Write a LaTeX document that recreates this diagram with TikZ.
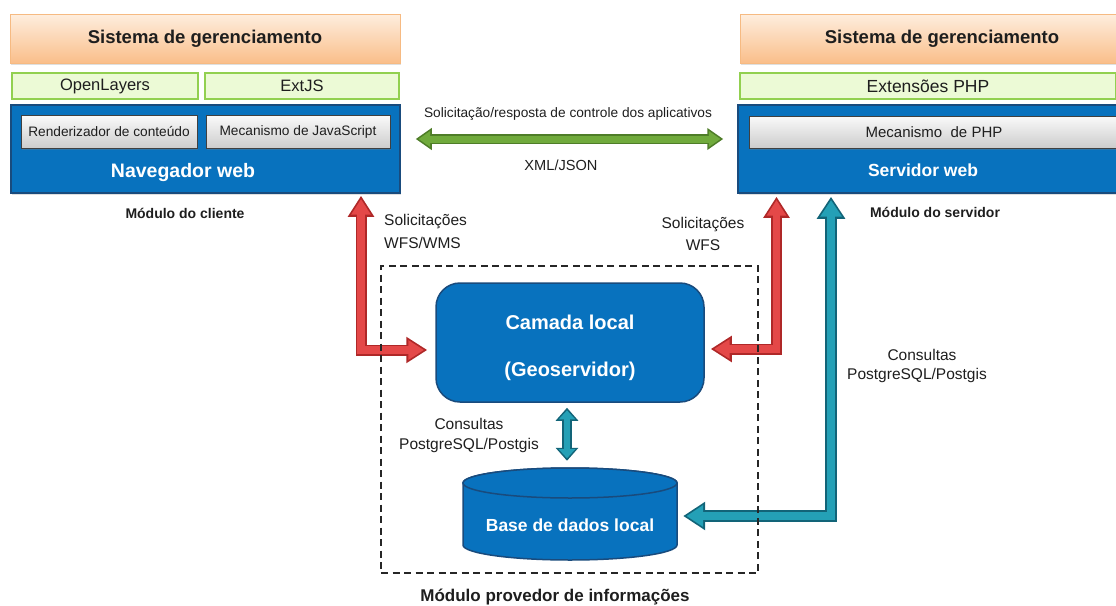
\documentclass[tikz,border=0pt]{standalone}
\usepackage{fontspec}
\setmainfont{Liberation Sans}
\usetikzlibrary{arrows.meta,shadows,calc}
\definecolor{bluefill}{RGB}{8,114,190}
\definecolor{blueborder}{RGB}{25,75,125}
\definecolor{redfill}{RGB}{228,72,72}
\definecolor{redborder}{RGB}{175,40,40}
\definecolor{tealfill}{RGB}{36,160,182}
\definecolor{tealborder}{RGB}{18,100,120}
\definecolor{grnfill}{RGB}{112,170,60}
\definecolor{grnborder}{RGB}{78,125,40}
\definecolor{orTop}{RGB}{254,238,222}
\definecolor{orBot}{RGB}{250,190,138}
\definecolor{orBorder}{RGB}{246,186,130}
\definecolor{gbFill}{RGB}{236,250,214}
\definecolor{gbBorder}{RGB}{146,208,80}
\definecolor{txt}{RGB}{30,30,30}
\newcommand{\fsz}[1]{\fontsize{#1}{#1}\selectfont}
\begin{document}
\begin{tikzpicture}[x=1pt,y=-1pt,
  orangebox/.style={draw=orBorder, line width=1pt, top color=orTop, bottom color=orBot,
     inner sep=0pt, text=txt, font=\bfseries\fsz{18.5},
     drop shadow={opacity=0.25, shadow xshift=1pt, shadow yshift=-1.5pt}},
  greenbox/.style={draw=gbBorder, line width=1.3pt, fill=gbFill, inner sep=0pt, text=txt},
  bluebox/.style={draw=blueborder, line width=1.5pt, fill=bluefill, inner sep=0pt,
     drop shadow={opacity=0.25, shadow xshift=1pt, shadow yshift=-1.5pt}},
  greybox/.style={draw=black!75, line width=1pt, top color=white!96!gray, bottom color=gray!40,
     inner sep=0pt, text=txt, drop shadow={opacity=0.3, shadow xshift=1pt, shadow yshift=-1.5pt}},
  whitetext/.style={text=white, font=\bfseries\fsz{#1}},
  plaintext/.style={text=txt, font=\fsz{#1}, inner sep=0pt},
  boldtext/.style={text=txt, font=\bfseries\fsz{#1}, inner sep=0pt},
  dashbox/.style={draw=black!85, line width=1.6pt, dash pattern=on 7pt off 4.5pt, inner sep=0pt},
  redO/.style={draw=redborder, line width=11pt, line join=miter,
     {Triangle[length=21pt,width=25pt]}-{Triangle[length=21pt,width=25pt]}},
  redI/.style={draw=redfill, line width=7.6pt, line join=miter, shorten <=3.3pt, shorten >=3.3pt,
     {Triangle[length=15.5pt,width=18.5pt]}-{Triangle[length=15.5pt,width=18.5pt]}},
  tealO/.style={draw=tealborder, line width=12pt, line join=miter,
     {Triangle[length=22pt,width=27pt]}-{Triangle[length=22pt,width=27pt]}},
  tealI/.style={draw=tealfill, line width=8.6pt, line join=miter, shorten <=3.3pt, shorten >=3.3pt,
     {Triangle[length=16.5pt,width=20.5pt]}-{Triangle[length=16.5pt,width=20.5pt]}},
  tealsO/.style={draw=tealborder, line width=9.5pt,
     {Triangle[length=13pt,width=22pt]}-{Triangle[length=13pt,width=22pt]}},
  tealsI/.style={draw=tealfill, line width=6.5pt, shorten <=2.6pt, shorten >=2.6pt,
     {Triangle[length=9pt,width=16pt]}-{Triangle[length=9pt,width=16pt]}},
  grnO/.style={draw=grnborder, line width=10pt,
     {Triangle[length=16pt,width=21pt]}-{Triangle[length=16pt,width=21pt]}},
  grnI/.style={draw=grnfill, line width=7pt, shorten <=2.8pt, shorten >=2.8pt,
     {Triangle[length=11.5pt,width=15pt]}-{Triangle[length=11.5pt,width=15pt]}},
]
\useasboundingbox (0,0) rectangle (1116,605);
\clip (0,0) rectangle (1116,605);

% ---------- client module ----------
\node[orangebox, minimum width=390pt, minimum height=49pt] (sgL) at (205,38.5) {Sistema de gerenciamento};
\node[greenbox, minimum width=186pt, minimum height=26pt, font=\fsz{16.5}] (ol) at (105,86) {\raisebox{-2pt}{OpenLayers}};
\node[greenbox, minimum width=194pt, minimum height=26pt, font=\fsz{16.5}] (ext) at (302,86) {ExtJS};
\node[bluebox, minimum width=389pt, minimum height=88pt] (nav) at (205.5,149) {};
\node[greybox, minimum width=176pt, minimum height=33pt, font=\fsz{13.7}] (rend) at (109,132) {Renderizador de conteúdo};
\node[greybox, minimum width=184pt, minimum height=33pt, font=\fsz{13.7}] (js) at (298,132) {Mecanismo de JavaScript};
\node[whitetext=19.5] (navl) at (183,172) {Navegador web};
\node[boldtext=14] (mcl) at (185,213) {Módulo do cliente};

% ---------- server module ----------
\node[orangebox, minimum width=404pt, minimum height=49pt] (sgR) at (942,38.5) {Sistema de gerenciamento};
\node[greenbox, minimum width=376pt, minimum height=26pt, font=\fsz{17.5}] (php) at (928,86) {Extensões PHP};
\node[bluebox, minimum width=380pt, minimum height=88pt] (serv) at (928,149) {};
\node[greybox, minimum width=370pt, minimum height=32pt, font=\fsz{15}] (mphp) at (934,132) {Mecanismo\ \ de PHP};
\node[whitetext=17.5] (servl) at (923,170) {Servidor web};
\node[boldtext=14] (msv) at (935,212) {Módulo do servidor};

% ---------- information provider module ----------
\node[draw=blueborder, line width=1.5pt, fill=bluefill, rounded corners=24pt,
      minimum width=268pt, minimum height=119pt] (cam) at (570,342.5) {};
\node[align=center, text=white, inner sep=0pt,
      font=\bfseries\fontsize{20}{47}\selectfont] (camtxt) at (570,347.5) {Camada local\\(Geoservidor)};

\draw[draw=blueborder, line width=1.5pt, fill=bluefill]
  (463,483) -- (463,545) arc[start angle=180, end angle=0, x radius=107, y radius=15]
  -- (677,483) arc[start angle=0, end angle=-180, x radius=107, y radius=15] -- cycle;
\draw[draw=blueborder, line width=1.5pt, fill=bluefill] (570,483) ellipse[x radius=107, y radius=15];
\node[whitetext=17.5, minimum width=214pt, minimum height=50pt, inner sep=0pt] (db) at (570,525) {Base de dados local};

% ---------- connectors ----------
\draw[grnO] ([xshift=15pt,yshift=10pt]nav.east) -- ([xshift=-14pt,yshift=10pt]serv.west);
\draw[grnI] ([xshift=15pt,yshift=10pt]nav.east) -- ([xshift=-14pt,yshift=10pt]serv.west);

\draw[redO] ([xshift=155.5pt,yshift=-2pt]nav.south) |- ([xshift=-8pt,yshift=-7.5pt]cam.west);
\draw[redI] ([xshift=155.5pt,yshift=-2pt]nav.south) |- ([xshift=-8pt,yshift=-7.5pt]cam.west);

\draw[redO] ([xshift=-151.5pt,yshift=-3pt]serv.south) |- ([xshift=6pt,yshift=-6.5pt]cam.east);
\draw[redI] ([xshift=-151.5pt,yshift=-3pt]serv.south) |- ([xshift=6pt,yshift=-6.5pt]cam.east);

\draw[tealO] ([xshift=-97pt,yshift=-3pt]serv.south) |- ([xshift=6pt,yshift=9pt]db.east);
\draw[tealI] ([xshift=-97pt,yshift=-3pt]serv.south) |- ([xshift=6pt,yshift=9pt]db.east);

\draw[tealsO] ([xshift=-3pt,yshift=-5pt]cam.south) -- ([xshift=-3pt,yshift=39pt]db.north);
\draw[tealsI] ([xshift=-3pt,yshift=-5pt]cam.south) -- ([xshift=-3pt,yshift=39pt]db.north);

\node[dashbox, minimum width=377pt, minimum height=307pt] (prov) at (569.5,419.5) {};

% ---------- labels ----------
\node[plaintext=13.7] (ctl) at (568,114) {Solicitação/resposta de controle dos aplicativos};
\node[plaintext=14.6] (xml) at (561,165) {XML/JSON};
\node[plaintext=15.5, anchor=west] (s1) at (384,222) {Solicitações};
\node[plaintext=15.5, anchor=west] (s2) at (384,242.5) {WFS/WMS};
\node[plaintext=15.5] (s3) at (703,225) {Solicitações};
\node[plaintext=15.5] (s4) at (703,245) {WFS};
\node[plaintext=15.5] (c1) at (469,424) {Consultas};
\node[plaintext=15.5] (c2) at (469,445) {PostgreSQL/Postgis};
\node[plaintext=15.5] (c3) at (922,355) {Consultas};
\node[plaintext=15.5] (c4) at (917,375) {PostgreSQL/Postgis};
\node[boldtext=17] (mpi) at (555,597) {Módulo provedor de informações};
\end{tikzpicture}
\end{document}
